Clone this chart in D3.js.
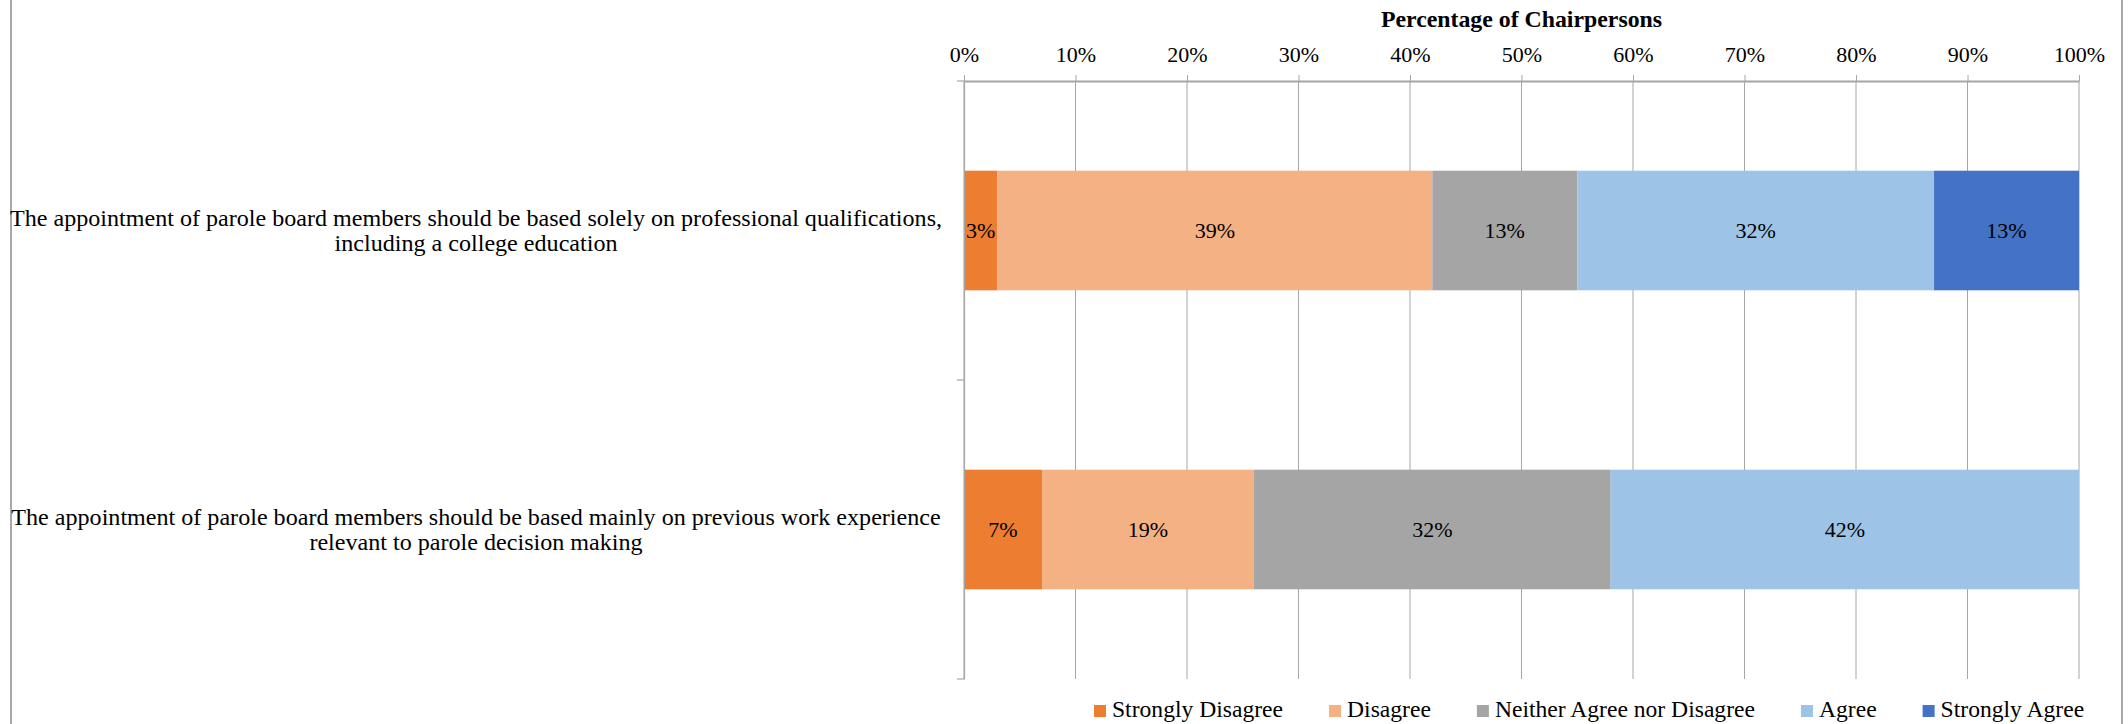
<!DOCTYPE html>
<html>
<head>
<meta charset="utf-8">
<script src="https://cdn.jsdelivr.net/npm/d3@7"></script>
<style>
  html, body { margin: 0; padding: 0; background: #ffffff; }
  svg { display: block; }
  text { font-family: "Liberation Serif", "Times New Roman", serif; fill: #000000; }
</style>
</head>
<body>
<script>
// Survey statements (line breaks mark where each label wraps)
const categories = [
  "The appointment of parole board members should be based solely on professional qualifications,\nincluding a college education",
  "The appointment of parole board members should be based mainly on previous work experience\nrelevant to parole decision making"
];

// Response scale, in stacking order
const responses = ["Strongly Disagree", "Disagree", "Neither Agree nor Disagree", "Agree", "Strongly Agree"];
const responseColors = ["#ED7D31", "#F4B183", "#A5A5A5", "#9DC3E6", "#4472C4"];

// Percentage of chairpersons giving each response
const qualificationsPct = [3, 39, 13, 32, 13];
const experiencePct = [7, 19, 32, 42, 0];

// Axis ticks
const tickValues = [0, 10, 20, 30, 40, 50, 60, 70, 80, 90, 100];
const tickLabels = ["0%", "10%", "20%", "30%", "40%", "50%", "60%", "70%", "80%", "90%", "100%"];
const axisTitle = "Percentage of Chairpersons";

const seriesByCategory = [qualificationsPct, experiencePct];

const W = 2128, H = 724;
const plot = { left: 964, right: 2079, top: 81, bottom: 679 };

const svg = d3.select("body").append("svg")
  .attr("width", W).attr("height", H);

// Outer chart frame edges
svg.append("g").selectAll("line").data([11, 2122]).join("line")
  .attr("x1", d => d).attr("x2", d => d)
  .attr("y1", 0).attr("y2", H)
  .attr("stroke", "#6e6e6e").attr("stroke-width", 1.2);

const x = d3.scaleLinear().domain([0, 100]).range([plot.left, plot.right]);
const y = d3.scaleBand().domain(categories)
  .range([plot.top, plot.bottom])
  .paddingInner(0.6).paddingOuter(0.3);

// Vertical gridlines
svg.append("g").selectAll("line").data(tickValues).join("line")
  .attr("x1", d => x(d)).attr("x2", d => x(d))
  .attr("y1", plot.top).attr("y2", plot.bottom)
  .attr("stroke", "#A6A6A6").attr("stroke-width", 1);

// Stacked segments
const stackRows = categories.map((c, i) => {
  const row = { category: c };
  responses.forEach((r, j) => { row[r] = seriesByCategory[i][j]; });
  return row;
});
const stacked = d3.stack().keys(responses)(stackRows);

const layers = svg.append("g").selectAll("g").data(stacked).join("g")
  .attr("fill", (d, i) => responseColors[i]);

layers.selectAll("rect").data(d => d.filter(s => s[1] - s[0] > 0)).join("rect")
  .attr("x", d => x(d[0]))
  .attr("y", d => y(d.data.category))
  .attr("width", d => x(d[1]) - x(d[0]))
  .attr("height", y.bandwidth());

// Value labels centred in each segment
layers.selectAll("text").data(d => d.filter(s => s[1] - s[0] > 0)).join("text")
  .attr("x", d => (x(d[0]) + x(d[1])) / 2)
  .attr("y", d => y(d.data.category) + y.bandwidth() / 2)
  .attr("dy", "0.35em")
  .attr("text-anchor", "middle")
  .attr("font-size", 22)
  .text(d => (d[1] - d[0]) + "%");

// Top value axis
const xAxis = d3.axisTop(x)
  .tickValues(tickValues)
  .tickFormat((d, i) => tickLabels[i])
  .tickSizeInner(6).tickSizeOuter(0).tickPadding(13);

const gx = svg.append("g")
  .attr("transform", `translate(0,${plot.top})`)
  .call(xAxis);
gx.select(".domain").attr("stroke", "#A6A6A6").attr("stroke-width", 2);
gx.selectAll(".tick line").attr("stroke", "#A6A6A6");
gx.selectAll(".tick text")
  .attr("font-family", "'Liberation Serif', 'Times New Roman', serif")
  .attr("font-size", 22).attr("fill", "#000");

svg.append("text")
  .attr("x", (plot.left + plot.right) / 2)
  .attr("y", 27)
  .attr("text-anchor", "middle")
  .attr("font-size", 23.8)
  .attr("font-weight", "bold")
  .text(axisTitle);

// Left category axis
const yAxis = d3.axisLeft(y).tickSize(0).tickFormat("");
const gy = svg.append("g")
  .attr("transform", `translate(${plot.left},0)`)
  .call(yAxis);
gy.select(".domain").attr("stroke", "#A6A6A6").attr("stroke-width", 1.2);

// Category boundary tick marks
const boundaries = [plot.top].concat(categories.map(c => y(c) - y.step() * y.paddingOuter() + y.step()));
svg.append("g").selectAll("line").data(boundaries).join("line")
  .attr("x1", plot.left - 7).attr("x2", plot.left)
  .attr("y1", d => d).attr("y2", d => d)
  .attr("stroke", "#A6A6A6").attr("stroke-width", 1.2);

// Category labels, wrapped and centred
const catLabels = svg.append("g").selectAll("text").data(categories).join("text")
  .attr("text-anchor", "middle")
  .attr("font-size", 24.1);
catLabels.each(function (c) {
  const lines = c.split("\n");
  const cy = y(c) + y.bandwidth() / 2;
  d3.select(this).selectAll("tspan").data(lines).join("tspan")
    .attr("x", 476)
    .attr("y", (d, i) => cy + (i - (lines.length - 1) / 2) * 25 + 8)
    .text(d => d);
});

// Legend
const legend = svg.append("g").attr("transform", "translate(1094,0)");
let cursor = 0;
responses.forEach((r, i) => {
  const item = legend.append("g").attr("transform", `translate(${cursor},0)`);
  item.append("rect")
    .attr("x", 0).attr("y", 705).attr("width", 12).attr("height", 12)
    .attr("fill", responseColors[i]);
  const t = item.append("text")
    .attr("x", 18).attr("y", 717)
    .attr("font-size", 23.6)
    .text(r);
  cursor += 18 + t.node().getComputedTextLength() + 46;
});
</script>
</body>
</html>
